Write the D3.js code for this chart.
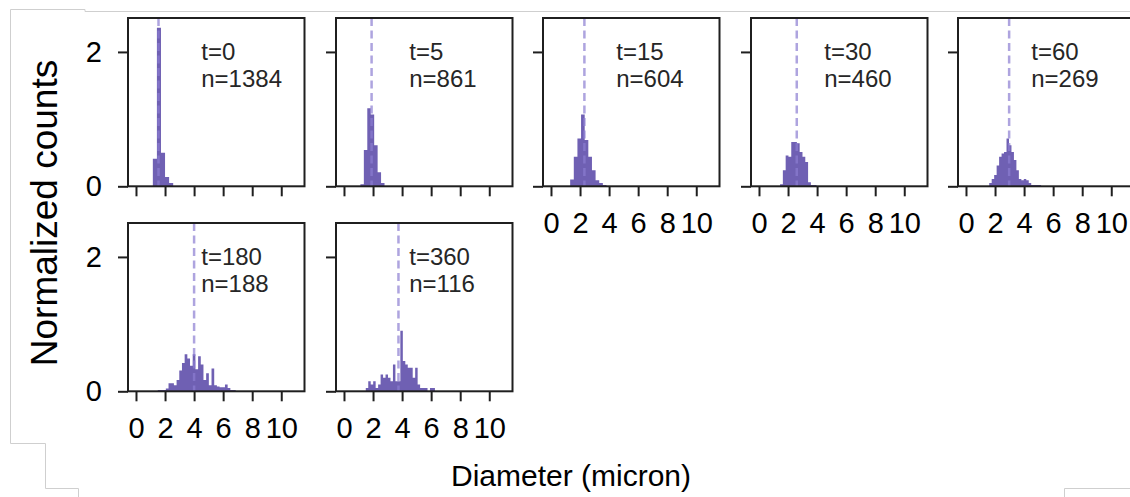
<!DOCTYPE html>
<html><head><meta charset="utf-8">
<script src="https://cdn.jsdelivr.net/npm/d3@7"></script>
<style>body{margin:0;background:#fff}svg{display:block}</style>
</head><body><svg id="c" width="1130" height="497"></svg>
<script>
// ---- data ----
const times   = [0, 5, 15, 30, 60, 180, 360];
const counts  = [1384, 861, 604, 460, 269, 188, 116];
const medians = [1.55, 1.9, 2.3, 2.6, 2.97, 4.0, 3.75];
const binStarts = [1.16, 1.13, 1.32, 1.45, 1.60, 1.50, 1.50];
const binWidths = [0.28, 0.237, 0.25, 0.193, 0.17, 0.185, 0.17];
const dens_t0   = [0.41, 2.36, 0.50, 0.14, 0.05];
const dens_t5   = [0.03, 0.54, 1.16, 1.07, 0.61, 0.21, 0.05];
const dens_t15  = [0.10, 0.44, 0.71, 1.07, 0.69, 0.44, 0.24, 0.09, 0.05, 0.02];
const dens_t30  = [0.03, 0.24, 0.46, 0.44, 0.66, 0.66, 0.64, 0.51, 0.44, 0.36, 0.06, 0.02, 0.02];
const dens_t60  = [0.05, 0.11, 0.17, 0.31, 0.44, 0.49, 0.51, 0.71, 0.61, 0.51, 0.39, 0.24, 0.11, 0.09, 0.11, 0.09, 0.05, 0.02, 0.02, 0.02, 0.02];
const dens_t180 = [0.02, 0.02, 0.02, 0.04, 0.12, 0.12, 0.09, 0.17, 0.31, 0.42, 0.55, 0.49, 0.38, 0.55, 0.33, 0.52, 0.40, 0.17, 0.27, 0.09, 0.34, 0.09, 0.07, 0.06, 0.06, 0.10, 0.05, 0.02, 0.02];
const dens_t360 = [0.05, 0.15, 0.10, 0.15, 0.05, 0.10, 0.25, 0.20, 0.25, 0.20, 0.15, 0.40, 0.15, 0.15, 0.90, 0.45, 0.40, 0.35, 0.35, 0.20, 0.35, 0.10, 0.05, 0.05, 0.05, 0.00, 0.05, 0.05];
const densities = [dens_t0, dens_t5, dens_t15, dens_t30, dens_t60, dens_t180, dens_t360];
const xTicks = [0, 2, 4, 6, 8, 10];
const yTicks = [0, 2];
const xDomain = [-0.55, 11.6];
const yDomain = [0, 2.505];

// ---- layout ----
const svg = d3.select("#c");
const FONT = "'Liberation Sans', Arial, Helvetica, sans-serif";
const ink = "#1f1f1f";
const barColor = "#6f60b3";
const medColor = "rgba(140,125,210,0.7)";
const W = 176.5, H = 168.3, pitchX = 207.6, pitchY = 205.3, left0 = 128, top0 = 18;

// faint border artefacts
svg.append("path")
  .attr("d", "M10.5,9.5H85V11.5H1130 M10.5,9.5V443.5H45.5V488.5H78.5V497 M1064.5,497V488.5H1130")
  .attr("fill", "none").attr("stroke", "#cfcfcf").attr("stroke-width", 1);

times.forEach((t, i) => {
  const col = i % 5, row = Math.floor(i / 5);
  const L = Math.round(left0 + col * pitchX), T = Math.round(top0 + row * pitchY);
  const x = d3.scaleLinear().domain(xDomain).range([L, L + W]);
  const y = d3.scaleLinear().domain(yDomain).range([T + H, T]);
  const g = svg.append("g");

  // histogram
  const dens = densities[i];
  const pts = dens.map((v, j) => ({e: binStarts[i] + j * binWidths[i], v}));
  pts.push({e: binStarts[i] + dens.length * binWidths[i], v: 0});
  const area = d3.area().curve(d3.curveStepAfter)
    .x(d => x(d.e)).y0(y(0)).y1(d => y(d.v));
  g.append("path").datum(pts).attr("d", area).attr("fill", barColor);

  // median line
  g.append("line")
    .attr("x1", x(medians[i])).attr("x2", x(medians[i]))
    .attr("y1", y(yDomain[1])).attr("y2", y(0))
    .attr("stroke", medColor).attr("stroke-width", 2.5)
    .attr("stroke-dasharray", "8,4.5");

  // annotation
  const ax = L + 0.415 * W;
  g.append("text").attr("x", ax).attr("y", T + 42).text("t=" + t)
    .attr("font-family", FONT).attr("font-size", 24).attr("fill", "#262626");
  g.append("text").attr("x", ax).attr("y", T + 69).text("n=" + counts[i])
    .attr("font-family", FONT).attr("font-size", 24).attr("fill", "#262626");

  // axes
  const showX = (i >= 2);
  const showY = (col === 0);
  const xa = d3.axisBottom(x).tickValues(xTicks).tickSize(10).tickPadding(16)
    .tickFormat(showX ? d3.format("d") : () => "");
  const gx = g.append("g").attr("transform", `translate(0,${T + H})`).call(xa);
  const ya = d3.axisLeft(y).tickValues(yTicks).tickSize(10).tickPadding(16)
    .tickFormat(showY ? d3.format("d") : () => "");
  const gy = g.append("g").attr("transform", `translate(${L},0)`).call(ya);
  [gx, gy].forEach(a => {
    a.select(".domain").remove();
    a.selectAll("line").attr("stroke", ink).attr("stroke-width", 2);
    a.selectAll("text").attr("font-family", FONT).attr("font-size", 29).attr("fill", "#000");
  });

  // frame
  g.append("rect").attr("x", L).attr("y", T).attr("width", W).attr("height", H)
    .attr("fill", "none").attr("stroke", ink).attr("stroke-width", 2);
});

// axis titles
svg.append("text").attr("x", 571).attr("y", 486).attr("text-anchor", "middle")
  .attr("font-family", FONT).attr("font-size", 30).attr("fill", "#000")
  .text("Diameter (micron)");
svg.append("text").attr("transform", "translate(57,213) rotate(-90)")
  .attr("text-anchor", "middle")
  .attr("font-family", FONT).attr("font-size", 37).attr("fill", "#000")
  .text("Normalized counts");
</script></body></html>
